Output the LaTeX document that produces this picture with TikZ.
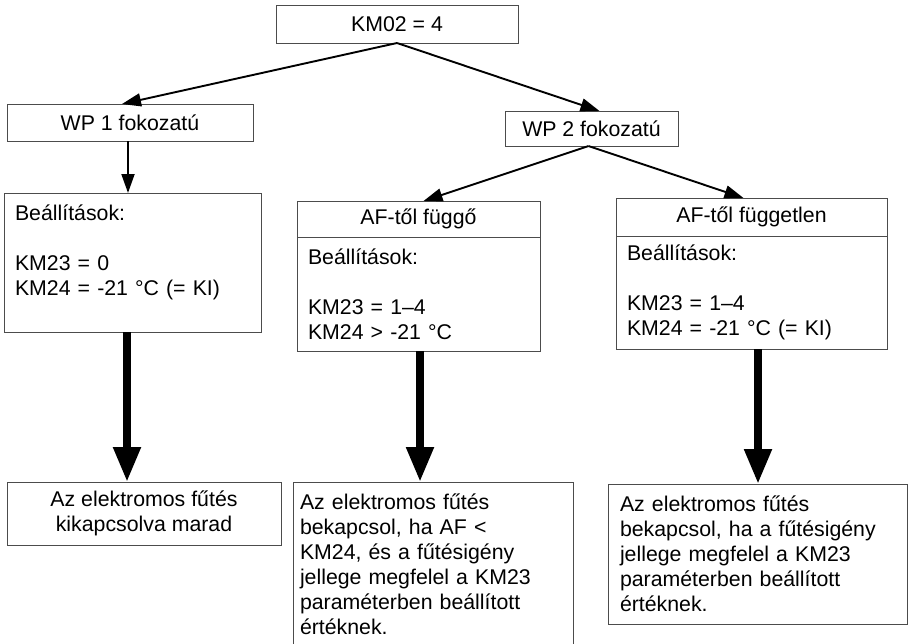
\documentclass[tikz,border=0pt]{standalone}
\usepackage{fontspec}
\setmainfont{Liberation Sans}
\usetikzlibrary{positioning,arrows.meta}
\tikzstyle{choice} = [rectangle, minimum height=37pt, text centered, draw=black!70, line width=1pt, inner sep=0pt, outer sep=0pt]
\tikzstyle{head} = [rectangle, text centered, draw=black!70, line width=1pt, inner sep=0pt, outer sep=0pt]
\tikzstyle{setbox} = [rectangle, align=left, draw=black!70, line width=1pt, inner xsep=11pt, inner ysep=0pt, outer sep=0pt]
\tikzstyle{result} = [rectangle, draw=black!70, line width=1pt, inner ysep=0pt, outer sep=0pt]
\tikzstyle{arrow} = [line width=1.9pt,-{Triangle[length=19pt,width=13pt]}]
\tikzstyle{bigarrow} = [line width=8pt,-{Triangle[length=35pt,width=26pt]}]

\begin{document}
\begin{tikzpicture}[x=1pt,y=-1pt,every node/.style={font=\fontsize{21.3}{25}\selectfont}]

	\useasboundingbox (0,0) rectangle (909,643);
	\clip (0,0) rectangle (909,643);

	\node (km02) [choice, minimum width=242pt, minimum height=38pt] at (397,24) {KM02 = 4};
	\node (wp1) [choice, minimum width=246pt] at (130,122.5) {WP 1 fokozatú};
	\node (wp2) [choice, minimum width=173pt, minimum height=35pt] at (591.5,128.5) {WP 2 fokozatú};

	\node (set1) [setbox, text width=235pt, minimum height=139pt, anchor=north west] at (4,193) {Beállítások:\\[25pt]KM23 = 0\\KM24 = -21 °C (= KI)\\ \mbox{}};

	\node (dephead) [head, minimum width=243pt, minimum height=36pt, anchor=north] at (418.5,201) {AF-től függő};
	\node (depset) [setbox, text width=221pt, minimum height=114pt, below=0pt of dephead] {Beállítások:\\[25pt]KM23 = 1–4\\KM24 > -21 °C};

	\node (indhead) [head, minimum width=271pt, minimum height=38pt, anchor=north] at (751.5,198) {AF-től független};
	\node (indset) [setbox, text width=249pt, minimum height=113pt, below=0pt of indhead] {Beállítások:\\[25pt]KM23 = 1–4\\KM24 = -21 °C (= KI)};

	\node (res1) [result, minimum width=274pt, minimum height=63pt, align=center, anchor=north] at (144,482) {Az elektromos fűtés\\kikapcsolva marad};
	\node (res2) [result, text width=266pt, inner xsep=7pt, minimum height=164pt, align=left, anchor=north west] at (293,482) {Az elektromos fűtés\\bekapcsol, ha AF <\\KM24, és a fűtésigény\\jellege megfelel a KM23\\paraméterben beállított\\értéknek.};
	\node (res3) [result, text width=275pt, inner xsep=12pt, minimum height=140pt, align=left, anchor=north west] at (608,484) {Az elektromos fűtés\\bekapcsol, ha a fűtésigény\\jellege megfelel a KM23\\paraméterben beállított\\értéknek.};

	\draw [arrow] (km02.south) -- ([xshift=-8pt]wp1.north);
	\draw [arrow] (km02.south) -- ([xshift=8pt]wp2.north);
	\draw [arrow] ([xshift=-2pt]wp1.south) -- ([xshift=-2pt]wp1.south |- set1.north);
	\draw [arrow] ([xshift=-3pt]wp2.south) -- ([xshift=5pt]dephead.north);
	\draw [arrow] ([xshift=-3pt]wp2.south) -- ([xshift=-8pt]indhead.north);

	\draw [bigarrow] ([xshift=-5.5pt]set1.south) -- ([xshift=-5.5pt]set1.south |- res1.north);
	\draw [bigarrow] ([xshift=1.5pt]depset.south) -- ([xshift=1.5pt]depset.south |- res2.north);
	\draw [bigarrow] ([xshift=6.5pt]indset.south) -- ([xshift=6.5pt]indset.south |- res3.north);

\end{tikzpicture}
\end{document}
